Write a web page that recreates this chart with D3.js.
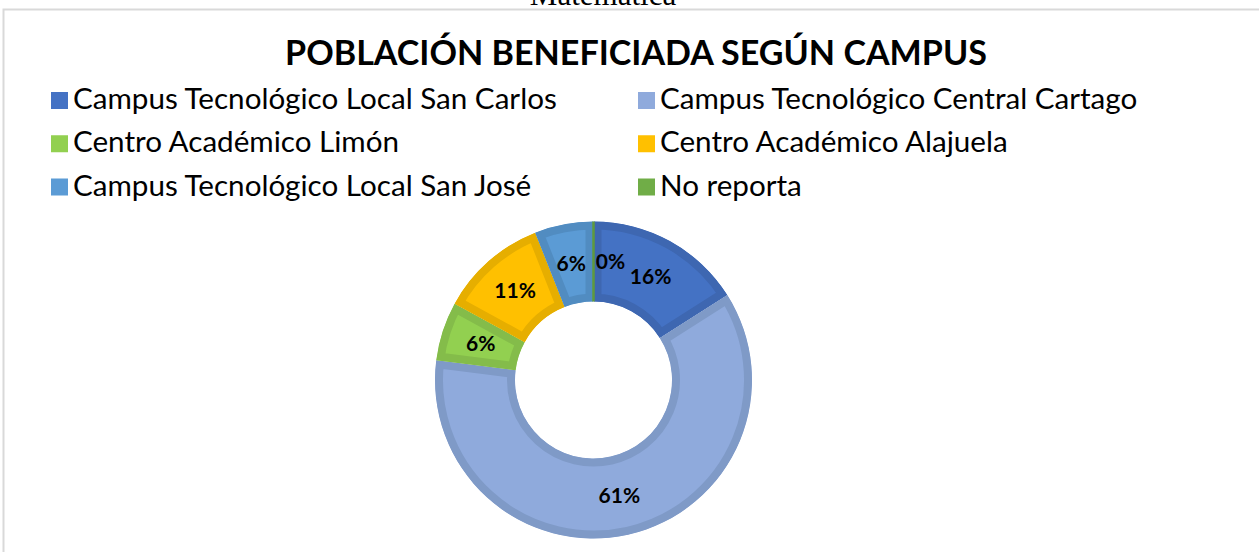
<!DOCTYPE html>
<html>
<head>
<meta charset="utf-8">
<script src="https://cdn.jsdelivr.net/npm/d3@7"></script>
<style>
  html, body { margin: 0; padding: 0; background: #fff; }
  svg { display: block; }
</style>
</head>
<body>
<div id="chart"></div>
<script>
const width = 1259;
const height = 552;

const categories = [
    "Campus Tecnológico Local San Carlos",
    "Campus Tecnológico Central Cartago",
    "Centro Académico Limón",
    "Centro Académico Alajuela",
    "Campus Tecnológico Local San José",
    "No reporta"
];
const percentages = [16, 61, 6, 11, 6, 0];
const fillColors = ['#4472c4', '#8faadc', '#92d050', '#ffc000', '#5b9bd5', '#70ad47'];
const borderColors = ['#3e67b1', '#7f9ac7', '#84bc4a', '#e6ae00', '#518cc1', '#5f9a3d'];

const title = "POBLACIÓN BENEFICIADA SEGÚN CAMPUS";

const svg = d3.select("#chart")
    .append("svg")
    .attr("width", width)
    .attr("height", height);

// caption from the page above the chart, cut by the top edge as in the source
svg.append("text")
    .attr("x", 603)
    .attr("y", 5)
    .attr("text-anchor", "middle")
    .attr("font-family", "Liberation Serif, serif")
    .attr("font-size", 31)
    .text("Matemática");

// chart frame (only top and left edges are visible)
svg.append("path")
    .attr("d", "M3.5," + height + "V9.5H" + width)
    .attr("fill", "none")
    .attr("stroke", "#d9d9d9")
    .attr("stroke-width", 2);

// fit a text node to a width by adjusting its font size
function fitText(sel, targetWidth) {
    sel.attr("font-size", 100);
    const w = sel.node().getComputedTextLength();
    const size = 100 * targetWidth / w;
    sel.attr("font-size", size);
    return size;
}

const titleText = svg.append("text")
    .attr("x", 636)
    .attr("y", 65)
    .attr("text-anchor", "middle")
    .attr("font-family", "Lato, Carlito, sans-serif")
    .attr("font-weight", "bold")
    .attr("fill", "#000")
    .text(title);
fitText(titleText, 702);

// legend: two columns, three rows
const legendCol = d3.scalePoint().domain([0, 1]).range([51, 638]);
const legendRow = d3.scalePoint().domain([0, 1, 2]).range([100.5, 187]);

const legend = svg.append("g")
    .selectAll("g")
    .data(categories)
    .join("g")
    .attr("transform", (d, i) => `translate(${legendCol(i % 2)},${legendRow(Math.floor(i / 2))})`);

legend.append("rect")
    .attr("x", 0)
    .attr("y", -8.5)
    .attr("width", 17)
    .attr("height", 17)
    .attr("fill", (d, i) => fillColors[i]);

const legendTexts = legend.append("text")
    .attr("x", 22)
    .attr("y", 8.5)
    .attr("font-family", "Lato, Carlito, sans-serif")
    .attr("fill", "#000")
    .text(d => d);

const legendSize = fitText(d3.select(legendTexts.nodes()[0]), 484);
legendTexts.attr("font-size", legendSize);

// donut
const cx = 593.5;
const cy = 380;
const outerR = 158.5;
const innerR = 78.5;
const border = 8;

const pie = d3.pie().sort(null).value(d => d);
const arcs = pie(percentages);

const arc = d3.arc().innerRadius(innerR).outerRadius(outerR);
const labelArc = d3.arc().innerRadius((innerR + outerR) / 2).outerRadius((innerR + outerR) / 2);

const donut = svg.append("g").attr("transform", `translate(${cx},${cy})`);
const defs = svg.append("defs");

arcs.forEach((a, i) => {
    if (a.endAngle - a.startAngle > 0) {
        defs.append("clipPath")
            .attr("id", "slice" + i)
            .append("path")
            .attr("d", arc(a));
    }
});

donut.selectAll("path.slice")
    .data(arcs)
    .join("path")
    .attr("class", "slice")
    .attr("d", arc)
    .attr("fill", (d, i) => fillColors[i])
    .attr("stroke", (d, i) => borderColors[i])
    .attr("stroke-width", d => d.endAngle - d.startAngle > 0 ? border * 2 : 2.5)
    .attr("stroke-linejoin", "miter")
    .attr("clip-path", (d, i) => d.endAngle - d.startAngle > 0 ? `url(#slice${i})` : null);

donut.selectAll("text.label")
    .data(arcs)
    .join("text")
    .attr("class", "label")
    .attr("transform", d => {
        const [x, y] = labelArc.centroid(d);
        return `translate(${x},${y})`;
    })
    .attr("dx", d => d.value === 0 ? 17 : 0)
    .attr("dy", "0.35em")
    .attr("text-anchor", "middle")
    .attr("font-family", "Lato, Carlito, sans-serif")
    .attr("font-weight", "bold")
    .attr("font-size", 21)
    .attr("fill", "#000")
    .text(d => d.value + "%");
</script>
</body>
</html>
